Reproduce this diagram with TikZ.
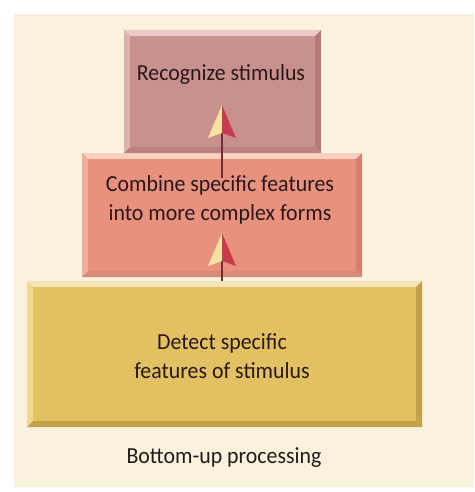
\documentclass[tikz,border=0pt]{standalone}
\usepackage{fontspec}
\setmainfont[FakeStretch=0.95]{Carlito}
\definecolor{bg}{HTML}{FAF2DD}
\definecolor{txt}{HTML}{2A1818}
% top box colours
\definecolor{rtop}{HTML}{EACBC6}
\definecolor{rleft}{HTML}{DDB1AD}
\definecolor{rright}{HTML}{B57B78}
\definecolor{rbot}{HTML}{B88380}
\definecolor{rface}{HTML}{C9918E}
% middle box colours
\definecolor{stop}{HTML}{F7D0C2}
\definecolor{sleft}{HTML}{F0AD9C}
\definecolor{sright}{HTML}{D47F6D}
\definecolor{sbot}{HTML}{D88B79}
\definecolor{sface}{HTML}{E8917E}
% bottom box colours
\definecolor{ytop}{HTML}{F6E4B6}
\definecolor{yleft}{HTML}{F1D895}
\definecolor{yright}{HTML}{C3A14A}
\definecolor{ybot}{HTML}{C2A046}
\definecolor{yface}{HTML}{E2C162}
\definecolor{tipL}{HTML}{F7E2A4}
\definecolor{tipR}{HTML}{C93A4C}
\definecolor{stem}{HTML}{7A2A32}
\newcommand\bevbox[6]{%
  \fill[#5top] (#1,-#2) -- (#3,-#2) -- (#3-#6,-#2-#6) -- (#1+#6,-#2-#6) -- cycle;
  \fill[#5left] (#1,-#2) -- (#1+#6,-#2-#6) -- (#1+#6,-#4+#6) -- (#1,-#4) -- cycle;
  \fill[#5right] (#3,-#2) -- (#3,-#4) -- (#3-#6,-#4+#6) -- (#3-#6,-#2-#6) -- cycle;
  \fill[#5bot] (#1,-#4) -- (#3,-#4) -- (#3-#6,-#4+#6) -- (#1+#6,-#4+#6) -- cycle;
  \fill[#5face] (#1+#6,-#2-#6) rectangle (#3-#6,-#4+#6);}
\newcommand\arrowtip[1]{%
  \fill[tipL] (#1) -- ++(-14,-33) -- ++(14,5) -- cycle;
  \fill[tipR] (#1) -- ++(14,-33) -- ++(-14,5) -- cycle;}
\tikzset{
  boxtext/.style={text=txt, align=center, font=\fontsize{23}{28.5}\selectfont, inner sep=0pt},
  stemline/.style={draw=stem, line width=1.6pt}
}
\begin{document}
\begin{tikzpicture}[x=1pt,y=1pt]
\useasboundingbox (0,0) rectangle (474,-492);
\fill[white] (0,0) rectangle (474,-492);
\fill[bg] (14,-14) rectangle (474,-487);
% boxes
\bevbox{27}{281}{422}{427}{y}{6}
\bevbox{82}{153}{362}{277}{s}{6}
\bevbox{124}{30}{321}{153}{r}{6}
% texts
\node[boxtext] (recog) at (221,-74) {Recognize stimulus};
\node[boxtext] (comb) at (220,-200) {Combine specific features\\into more complex forms};
\node[boxtext] (detect) at (222,-356) {Detect specific\\features of stimulus};
\node[boxtext] (caption) at (224,-458) {Bottom-up processing};
% arrows
\coordinate (lowbase) at (222,-281);
\coordinate (lownotch) at (222,-260);
\coordinate (lowtip) at (222,-233);
\coordinate (upbase) at (222,-178);
\coordinate (upnotch) at (222,-132);
\coordinate (uptip) at (222,-105);
\draw[stemline] (lowbase) -- (lownotch);
\draw[stemline] (upbase) -- (upnotch);
\arrowtip{lowtip}
\arrowtip{uptip}
\end{tikzpicture}
\end{document}
